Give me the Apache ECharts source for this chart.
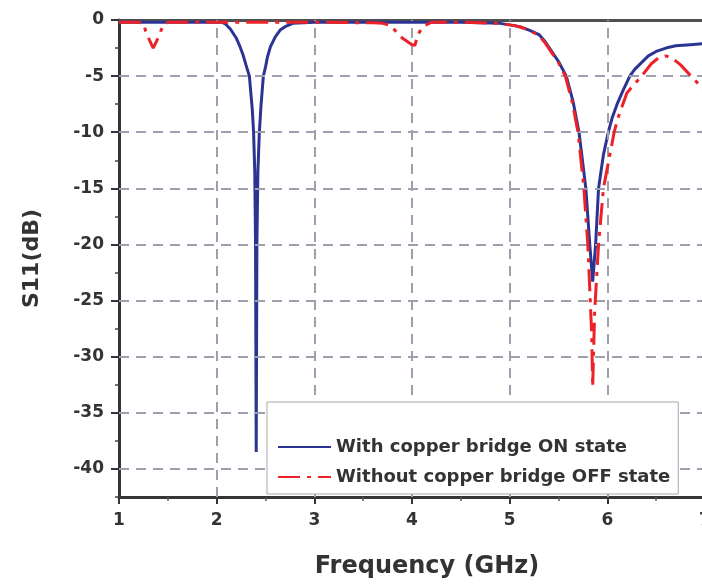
<!DOCTYPE html>
<html><head><meta charset="utf-8">
<script src="https://cdn.jsdelivr.net/npm/echarts@6/dist/echarts.min.js"></script>
<style>html,body{margin:0;padding:0;background:#fff}#c{width:702px;height:584px}</style>
</head><body><div id="c"></div>
<script>
const seriesNames = ['With copper bridge ON state', 'Without copper bridge OFF state'];

const freqOn = [1.0, 1.5, 1.9, 2.05, 2.09, 2.14, 2.2, 2.24, 2.27, 2.3, 2.335, 2.365, 2.378, 2.39, 2.398, 2.405, 2.412, 2.422, 2.437, 2.455, 2.478, 2.5, 2.52, 2.55, 2.6, 2.65, 2.7, 2.78, 3.0, 3.5, 4.0, 4.5, 4.9, 5.05, 5.12, 5.2, 5.3, 5.36, 5.43, 5.5, 5.58, 5.65, 5.71, 5.78, 5.82, 5.85, 5.88, 5.91, 5.96, 6.01, 6.05, 6.1, 6.16, 6.23, 6.28, 6.35, 6.42, 6.5, 6.6, 6.7, 6.85, 7.0];
const s11On  = [-0.2, -0.2, -0.2, -0.2, -0.35, -0.8, -1.6, -2.4, -3.1, -4.0, -5.0, -8.0, -10.0, -13.5, -20.0, -38.5, -20.0, -13.5, -10.0, -7.5, -5.0, -4.2, -3.3, -2.4, -1.5, -0.9, -0.6, -0.3, -0.2, -0.2, -0.2, -0.2, -0.3, -0.5, -0.65, -0.9, -1.3, -1.9, -2.8, -3.7, -5.0, -7.3, -10.0, -15.0, -20.0, -23.3, -20.0, -15.0, -12.0, -10.0, -8.7, -7.5, -6.3, -5.0, -4.4, -3.8, -3.2, -2.8, -2.5, -2.3, -2.2, -2.1];

const freqOff = [1.0, 1.2, 1.25, 1.28, 1.35, 1.4, 1.45, 1.5, 2.0, 3.0, 3.6, 3.7, 3.78, 3.9, 4.0, 4.03, 4.06, 4.11, 4.2, 4.5, 4.9, 5.05, 5.12, 5.2, 5.3, 5.36, 5.43, 5.5, 5.57, 5.64, 5.7, 5.76, 5.8, 5.84, 5.85, 5.87, 5.91, 5.96, 6.07, 6.11, 6.2, 6.28, 6.35, 6.45, 6.52, 6.6, 6.68, 6.75, 6.89, 7.0];
const s11Off  = [-0.2, -0.2, -0.3, -1.2, -2.5, -1.6, -0.5, -0.2, -0.2, -0.2, -0.25, -0.3, -0.5, -1.6, -2.2, -2.25, -1.3, -0.6, -0.2, -0.2, -0.3, -0.5, -0.65, -0.9, -1.4, -2.0, -2.9, -3.8, -5.0, -7.3, -10.0, -15.0, -20.0, -28.0, -32.7, -26.0, -20.0, -15.0, -10.0, -8.7, -6.5, -5.7, -5.0, -3.9, -3.4, -3.2, -3.5, -4.0, -5.3, -6.3];

const xTickValues = [1, 2, 3, 4, 5, 6, 7];
const xGridValues = [2, 3, 4, 5, 6];
const yLabelValues = [0, -5, -10, -15, -20, -25, -30, -35, -40];
const yGridValues = [-5, -10, -15, -20, -25, -30, -35, -40];

const FONT = 'DejaVu Sans';
const TXT = '#333333';
const zip = (a, b) => a.map((v, i) => [v, b[i]]);
const gridStyle = { type: [10, 7], color: '#9ea1ad', width: 2 };

const chart = echarts.init(document.getElementById('c'), null, { renderer: 'canvas' });
chart.setOption({
  animation: false,
  backgroundColor: '#ffffff',
  grid: { left: 119, top: 20, width: 586, height: 477, containLabel: false, outerBoundsMode: 'none' },
  legend: {
    data: seriesNames,
    orient: 'vertical',
    left: 267, top: 402,
    itemWidth: 53, itemHeight: 14, itemGap: 12,
    padding: [36, 8, 8, 10],
    backgroundColor: '#ffffff',
    borderColor: '#a8a8a8', borderWidth: 1,
    itemStyle: { opacity: 0 },
    textStyle: { fontFamily: FONT, fontWeight: 'bold', fontSize: 18, color: TXT },
    z: 10
  },
  xAxis: [{
    type: 'value', min: 1, max: 7, interval: 1, position: 'bottom',
    name: 'Frequency (GHz)', nameLocation: 'middle', nameGap: 58,
    nameTextStyle: { fontFamily: FONT, fontWeight: 'bold', fontSize: 24, color: TXT, padding: [0, 0, 0, 30] },
    axisLine: { show: true, onZero: false, lineStyle: { color: '#353535', width: 3 } },
    axisTick: { show: true, inside: false, length: 7, lineStyle: { color: '#353535', width: 2 } },
    minorTick: { show: true, splitNumber: 2, length: 4, lineStyle: { color: '#555', width: 1.5 } },
    axisLabel: { fontFamily: FONT, fontWeight: 'bold', fontSize: 17, color: TXT, margin: 15,
      customValues: xTickValues },
    splitLine: { show: false }
  }, {
    type: 'value', min: 1, max: 7, position: 'top',
    axisLine: { show: true, onZero: false, lineStyle: { color: '#505050', width: 3 } },
    axisTick: { show: false }, axisLabel: { show: false }, splitLine: { show: false }
  }],
  yAxis: [{
    type: 'value', min: -42.5, max: 0, interval: 2.5, position: 'left',
    axisLine: { show: true, onZero: false, lineStyle: { color: '#353535', width: 3 } },
    axisTick: { show: true, inside: false, length: 4, lineStyle: { color: '#444', width: 1.5 } },
    axisLabel: { show: false },
    splitLine: { show: false }
  }, {
    type: 'value', min: -42.5, max: 0, position: 'left', offset: 0,
    name: 'S11(dB)', nameLocation: 'middle', nameGap: 76, nameRotate: 90,
    nameTextStyle: { fontFamily: FONT, fontWeight: 'bold', fontSize: 22, color: TXT },
    axisLine: { show: false },
    axisTick: { show: true, inside: false, length: 8, customValues: yLabelValues, lineStyle: { color: '#353535', width: 2 } },
    axisLabel: { fontFamily: FONT, fontWeight: 'bold', fontSize: 17, color: TXT, margin: 15, customValues: yLabelValues },
    splitLine: { show: false }
  }],
  series: [{
    name: 'grid', type: 'line', data: [], z: 1, silent: true,
    markLine: {
      silent: true, symbol: ['none', 'none'], label: { show: false },
      lineStyle: gridStyle, animation: false,
      data: xGridValues.map(v => ({ xAxis: v })).concat(yGridValues.map(v => ({ yAxis: v })))
    }
  }, {
    name: seriesNames[0], type: 'line', z: 4,
    data: zip(freqOn, s11On), symbol: 'none', smooth: false,
    lineStyle: { color: '#2b3493', width: 3 }, itemStyle: { color: '#2b3493' }
  }, {
    name: seriesNames[1], type: 'line', z: 5,
    data: zip(freqOff, s11Off), symbol: 'none', smooth: false,
    lineStyle: { color: '#ec2228', width: 3, type: [22, 7, 4, 7] }, itemStyle: { color: '#ec2228' }
  }]
});
</script>
</body></html>
